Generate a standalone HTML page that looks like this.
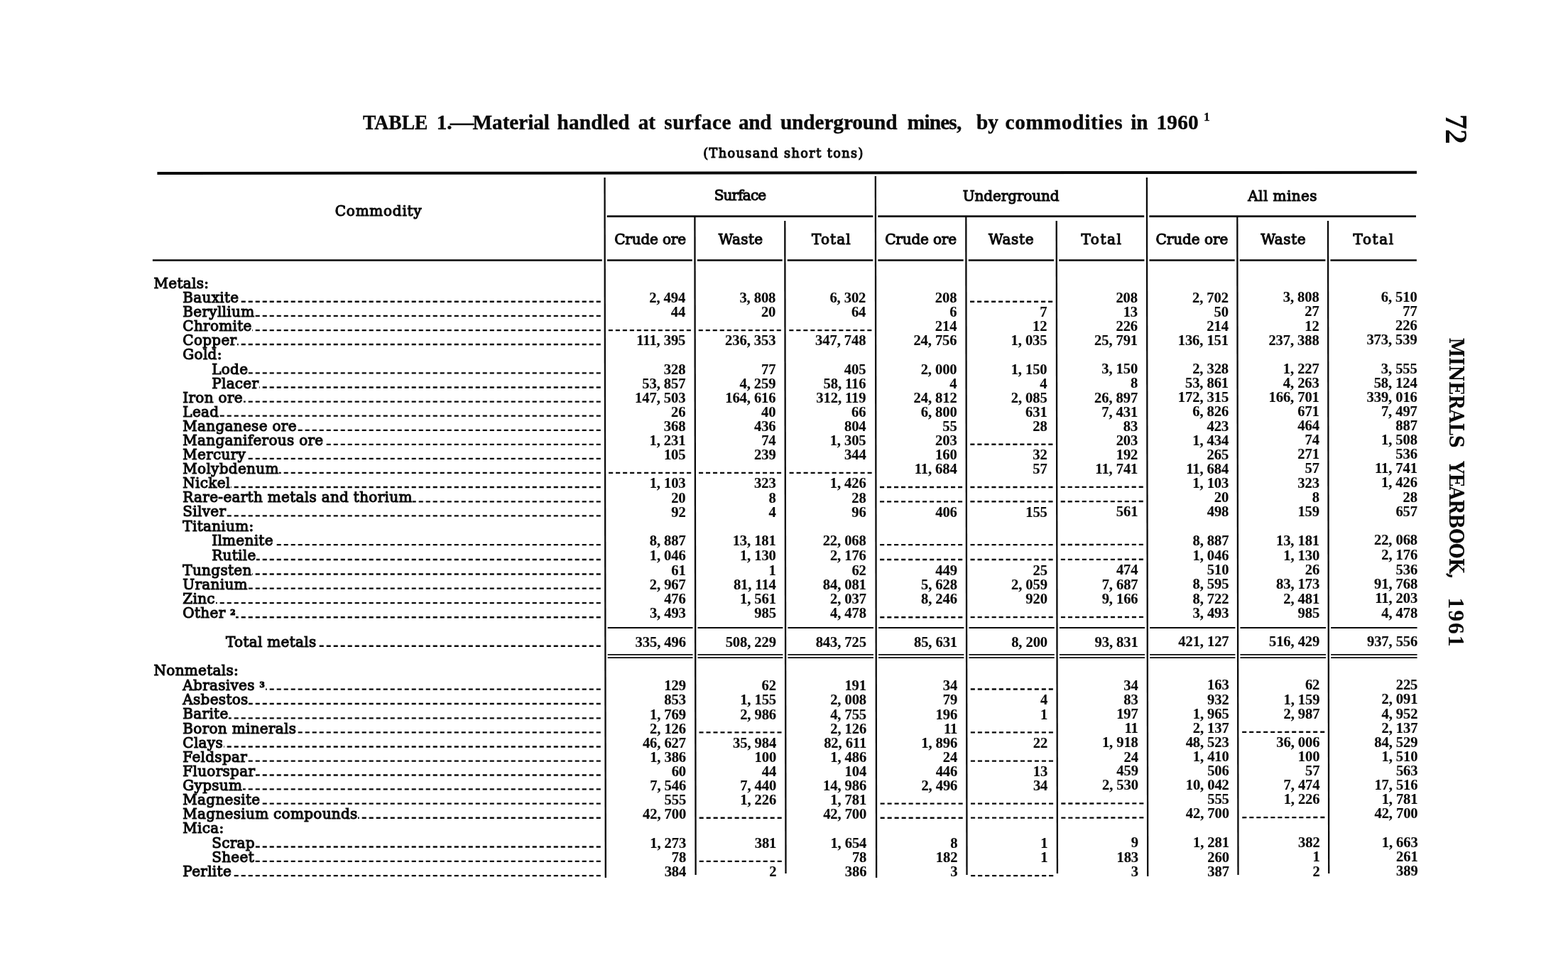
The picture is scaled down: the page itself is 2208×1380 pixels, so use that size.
<!DOCTYPE html><html lang="en"><head><meta charset="utf-8"><title>Table 1 - Material handled at surface and underground mines</title>
<style>
html,body{margin:0;padding:0;background:#fff;}
body{width:2208px;height:1380px;position:relative;overflow:hidden;color:#0a0a0a;}
.t{position:absolute;white-space:pre;line-height:1;display:block;}
.t sup{font-size:52%;vertical-align:baseline;position:relative;top:-0.40em;font-weight:700;}
.nm{font-weight:700;-webkit-text-stroke:0.15px #0a0a0a;}
.lb,.hd{-webkit-text-stroke:1.1px #0a0a0a;}
.tt{-webkit-text-stroke:0.4px #0a0a0a;}
</style></head><body>
<svg width="2208" height="1380" viewBox="0 0 2208 1380" style="position:absolute;left:0;top:0" fill="none" stroke="#0a0a0a">
<line x1="221.40" y1="244.00" x2="1995.00" y2="242.80" stroke-width="4.0"/>
<line x1="851.53" y1="250.00" x2="852.82" y2="1236.00" stroke-width="2.3"/>
<line x1="978.41" y1="306.00" x2="979.61" y2="1232.00" stroke-width="2.3"/>
<line x1="1105.31" y1="311.00" x2="1106.51" y2="1230.00" stroke-width="2.3"/>
<line x1="1232.83" y1="248.00" x2="1234.12" y2="1236.00" stroke-width="2.3"/>
<line x1="1360.31" y1="306.00" x2="1361.51" y2="1232.00" stroke-width="2.3"/>
<line x1="1487.71" y1="311.00" x2="1488.91" y2="1230.00" stroke-width="2.3"/>
<line x1="1614.93" y1="250.00" x2="1616.21" y2="1234.00" stroke-width="2.3"/>
<line x1="1742.31" y1="306.00" x2="1743.51" y2="1232.00" stroke-width="2.3"/>
<line x1="1870.01" y1="311.00" x2="1871.21" y2="1230.00" stroke-width="2.3"/>
<line x1="854.70" y1="304.70" x2="1229.30" y2="304.70" stroke-width="2.8"/>
<line x1="1236.30" y1="304.70" x2="1611.20" y2="304.70" stroke-width="2.8"/>
<line x1="1618.30" y1="304.70" x2="1994.00" y2="304.70" stroke-width="2.8"/>
<line x1="214.90" y1="366.50" x2="847.80" y2="366.50" stroke-width="2.7"/>
<line x1="855.00" y1="366.50" x2="974.80" y2="366.50" stroke-width="2.7"/>
<line x1="981.80" y1="366.50" x2="1101.70" y2="366.50" stroke-width="2.7"/>
<line x1="1108.70" y1="366.50" x2="1229.30" y2="366.50" stroke-width="2.7"/>
<line x1="1236.30" y1="366.50" x2="1356.70" y2="366.50" stroke-width="2.7"/>
<line x1="1363.70" y1="366.50" x2="1484.10" y2="366.50" stroke-width="2.7"/>
<line x1="1491.10" y1="366.50" x2="1611.40" y2="366.50" stroke-width="2.7"/>
<line x1="1618.40" y1="366.50" x2="1738.70" y2="366.50" stroke-width="2.7"/>
<line x1="1745.70" y1="366.50" x2="1866.40" y2="366.50" stroke-width="2.7"/>
<line x1="1873.40" y1="366.50" x2="1994.90" y2="366.50" stroke-width="2.7"/>
<line x1="855.70" y1="884.00" x2="975.50" y2="884.00" stroke-width="2.0"/>
<line x1="855.70" y1="921.90" x2="975.50" y2="921.90" stroke-width="1.8"/>
<line x1="855.70" y1="926.20" x2="975.50" y2="926.20" stroke-width="1.8"/>
<line x1="982.50" y1="884.00" x2="1102.40" y2="884.00" stroke-width="2.0"/>
<line x1="982.50" y1="921.90" x2="1102.40" y2="921.90" stroke-width="1.8"/>
<line x1="982.50" y1="926.20" x2="1102.40" y2="926.20" stroke-width="1.8"/>
<line x1="1109.40" y1="884.00" x2="1230.00" y2="884.00" stroke-width="2.0"/>
<line x1="1109.40" y1="921.90" x2="1230.00" y2="921.90" stroke-width="1.8"/>
<line x1="1109.40" y1="926.20" x2="1230.00" y2="926.20" stroke-width="1.8"/>
<line x1="1237.00" y1="884.00" x2="1357.40" y2="884.00" stroke-width="2.0"/>
<line x1="1237.00" y1="921.90" x2="1357.40" y2="921.90" stroke-width="1.8"/>
<line x1="1237.00" y1="926.20" x2="1357.40" y2="926.20" stroke-width="1.8"/>
<line x1="1364.40" y1="884.00" x2="1484.80" y2="884.00" stroke-width="2.0"/>
<line x1="1364.40" y1="921.90" x2="1484.80" y2="921.90" stroke-width="1.8"/>
<line x1="1364.40" y1="926.20" x2="1484.80" y2="926.20" stroke-width="1.8"/>
<line x1="1491.80" y1="884.00" x2="1612.10" y2="884.00" stroke-width="2.0"/>
<line x1="1491.80" y1="921.90" x2="1612.10" y2="921.90" stroke-width="1.8"/>
<line x1="1491.80" y1="926.20" x2="1612.10" y2="926.20" stroke-width="1.8"/>
<line x1="1619.10" y1="884.00" x2="1739.40" y2="884.00" stroke-width="2.0"/>
<line x1="1619.10" y1="921.90" x2="1739.40" y2="921.90" stroke-width="1.8"/>
<line x1="1619.10" y1="926.20" x2="1739.40" y2="926.20" stroke-width="1.8"/>
<line x1="1746.40" y1="884.00" x2="1867.10" y2="884.00" stroke-width="2.0"/>
<line x1="1746.40" y1="921.90" x2="1867.10" y2="921.90" stroke-width="1.8"/>
<line x1="1746.40" y1="926.20" x2="1867.10" y2="926.20" stroke-width="1.8"/>
<line x1="1874.10" y1="884.00" x2="1995.60" y2="884.00" stroke-width="2.0"/>
<line x1="1874.10" y1="921.90" x2="1995.60" y2="921.90" stroke-width="1.8"/>
<line x1="1874.10" y1="926.20" x2="1995.60" y2="926.20" stroke-width="1.8"/>
<line x1="845.80" y1="424.75" x2="337.00" y2="424.75" stroke-width="2.35" stroke-dasharray="6.1 3.9"/>
<line x1="1482.16" y1="424.70" x2="1365.26" y2="424.75" stroke-width="2.35" stroke-dasharray="6.1 3.9"/>
<line x1="845.80" y1="444.84" x2="359.00" y2="444.84" stroke-width="2.35" stroke-dasharray="6.1 3.9"/>
<line x1="845.80" y1="465.10" x2="355.00" y2="465.10" stroke-width="2.35" stroke-dasharray="6.1 3.9"/>
<line x1="972.91" y1="465.10" x2="856.61" y2="465.10" stroke-width="2.35" stroke-dasharray="6.1 3.9"/>
<line x1="1099.81" y1="465.10" x2="983.41" y2="465.10" stroke-width="2.35" stroke-dasharray="6.1 3.9"/>
<line x1="1227.41" y1="465.10" x2="1110.31" y2="465.10" stroke-width="2.35" stroke-dasharray="6.1 3.9"/>
<line x1="845.80" y1="485.00" x2="334.00" y2="485.00" stroke-width="2.35" stroke-dasharray="6.1 3.9"/>
<line x1="845.80" y1="525.40" x2="349.90" y2="525.40" stroke-width="2.35" stroke-dasharray="6.1 3.9"/>
<line x1="845.80" y1="545.50" x2="364.90" y2="545.50" stroke-width="2.35" stroke-dasharray="6.1 3.9"/>
<line x1="845.80" y1="565.55" x2="343.00" y2="565.55" stroke-width="2.35" stroke-dasharray="6.1 3.9"/>
<line x1="845.80" y1="585.60" x2="309.00" y2="585.60" stroke-width="2.35" stroke-dasharray="6.1 3.9"/>
<line x1="845.80" y1="605.90" x2="419.00" y2="605.90" stroke-width="2.35" stroke-dasharray="6.1 3.9"/>
<line x1="845.80" y1="625.80" x2="456.00" y2="625.80" stroke-width="2.35" stroke-dasharray="6.1 3.9"/>
<line x1="1482.42" y1="625.75" x2="1365.52" y2="625.80" stroke-width="2.35" stroke-dasharray="6.1 3.9"/>
<line x1="845.80" y1="645.90" x2="347.00" y2="645.90" stroke-width="2.35" stroke-dasharray="6.1 3.9"/>
<line x1="845.80" y1="665.85" x2="393.00" y2="665.85" stroke-width="2.35" stroke-dasharray="6.1 3.9"/>
<line x1="973.18" y1="665.85" x2="856.88" y2="665.85" stroke-width="2.35" stroke-dasharray="6.1 3.9"/>
<line x1="1100.08" y1="665.85" x2="983.68" y2="665.85" stroke-width="2.35" stroke-dasharray="6.1 3.9"/>
<line x1="1227.68" y1="665.85" x2="1110.58" y2="665.85" stroke-width="2.35" stroke-dasharray="6.1 3.9"/>
<line x1="845.80" y1="686.00" x2="325.00" y2="686.00" stroke-width="2.35" stroke-dasharray="6.1 3.9"/>
<line x1="1355.10" y1="686.00" x2="1238.20" y2="686.00" stroke-width="2.35" stroke-dasharray="6.1 3.9"/>
<line x1="1482.50" y1="685.95" x2="1365.60" y2="686.00" stroke-width="2.35" stroke-dasharray="6.1 3.9"/>
<line x1="1609.80" y1="685.74" x2="1493.00" y2="685.93" stroke-width="2.35" stroke-dasharray="6.1 3.9"/>
<line x1="845.80" y1="706.30" x2="581.00" y2="706.30" stroke-width="2.35" stroke-dasharray="6.1 3.9"/>
<line x1="1355.13" y1="706.30" x2="1238.23" y2="706.30" stroke-width="2.35" stroke-dasharray="6.1 3.9"/>
<line x1="1482.53" y1="706.25" x2="1365.63" y2="706.30" stroke-width="2.35" stroke-dasharray="6.1 3.9"/>
<line x1="1609.83" y1="706.04" x2="1493.03" y2="706.23" stroke-width="2.35" stroke-dasharray="6.1 3.9"/>
<line x1="845.80" y1="726.30" x2="319.00" y2="726.30" stroke-width="2.35" stroke-dasharray="6.1 3.9"/>
<line x1="845.80" y1="767.10" x2="385.90" y2="767.10" stroke-width="2.35" stroke-dasharray="6.1 3.9"/>
<line x1="1355.21" y1="767.10" x2="1238.31" y2="767.10" stroke-width="2.35" stroke-dasharray="6.1 3.9"/>
<line x1="1482.61" y1="767.05" x2="1365.71" y2="767.10" stroke-width="2.35" stroke-dasharray="6.1 3.9"/>
<line x1="1609.91" y1="766.84" x2="1493.11" y2="767.03" stroke-width="2.35" stroke-dasharray="6.1 3.9"/>
<line x1="845.80" y1="788.00" x2="360.90" y2="788.00" stroke-width="2.35" stroke-dasharray="6.1 3.9"/>
<line x1="1355.23" y1="788.00" x2="1238.33" y2="788.00" stroke-width="2.35" stroke-dasharray="6.1 3.9"/>
<line x1="1482.63" y1="787.95" x2="1365.73" y2="788.00" stroke-width="2.35" stroke-dasharray="6.1 3.9"/>
<line x1="1609.93" y1="787.74" x2="1493.13" y2="787.93" stroke-width="2.35" stroke-dasharray="6.1 3.9"/>
<line x1="845.80" y1="808.50" x2="355.00" y2="808.50" stroke-width="2.35" stroke-dasharray="6.1 3.9"/>
<line x1="845.80" y1="828.60" x2="350.00" y2="828.60" stroke-width="2.35" stroke-dasharray="6.1 3.9"/>
<line x1="845.80" y1="849.10" x2="304.00" y2="849.10" stroke-width="2.35" stroke-dasharray="6.1 3.9"/>
<line x1="845.80" y1="869.20" x2="332.00" y2="869.20" stroke-width="2.35" stroke-dasharray="6.1 3.9"/>
<line x1="1355.34" y1="869.20" x2="1238.44" y2="869.20" stroke-width="2.35" stroke-dasharray="6.1 3.9"/>
<line x1="1482.74" y1="869.15" x2="1365.84" y2="869.20" stroke-width="2.35" stroke-dasharray="6.1 3.9"/>
<line x1="1610.04" y1="868.94" x2="1493.24" y2="869.13" stroke-width="2.35" stroke-dasharray="6.1 3.9"/>
<line x1="845.80" y1="909.70" x2="446.70" y2="909.70" stroke-width="2.35" stroke-dasharray="6.1 3.9"/>
<line x1="845.80" y1="970.55" x2="374.00" y2="970.55" stroke-width="2.35" stroke-dasharray="6.1 3.9"/>
<line x1="1482.87" y1="970.50" x2="1365.97" y2="970.55" stroke-width="2.35" stroke-dasharray="6.1 3.9"/>
<line x1="845.80" y1="991.00" x2="350.00" y2="991.00" stroke-width="2.35" stroke-dasharray="6.1 3.9"/>
<line x1="845.80" y1="1011.30" x2="322.00" y2="1011.30" stroke-width="2.35" stroke-dasharray="6.1 3.9"/>
<line x1="845.80" y1="1031.40" x2="418.00" y2="1031.40" stroke-width="2.35" stroke-dasharray="6.1 3.9"/>
<line x1="1100.55" y1="1031.40" x2="984.15" y2="1031.40" stroke-width="2.35" stroke-dasharray="6.1 3.9"/>
<line x1="1482.95" y1="1031.35" x2="1366.05" y2="1031.40" stroke-width="2.35" stroke-dasharray="6.1 3.9"/>
<line x1="1865.25" y1="1030.71" x2="1748.05" y2="1030.91" stroke-width="2.35" stroke-dasharray="6.1 3.9"/>
<line x1="845.80" y1="1051.50" x2="315.00" y2="1051.50" stroke-width="2.35" stroke-dasharray="6.1 3.9"/>
<line x1="845.80" y1="1071.60" x2="349.00" y2="1071.60" stroke-width="2.35" stroke-dasharray="6.1 3.9"/>
<line x1="1483.00" y1="1071.55" x2="1366.10" y2="1071.60" stroke-width="2.35" stroke-dasharray="6.1 3.9"/>
<line x1="845.80" y1="1091.50" x2="360.00" y2="1091.50" stroke-width="2.35" stroke-dasharray="6.1 3.9"/>
<line x1="845.80" y1="1111.35" x2="342.00" y2="1111.35" stroke-width="2.35" stroke-dasharray="6.1 3.9"/>
<line x1="845.80" y1="1131.60" x2="367.00" y2="1131.60" stroke-width="2.35" stroke-dasharray="6.1 3.9"/>
<line x1="1355.68" y1="1131.60" x2="1238.78" y2="1131.60" stroke-width="2.35" stroke-dasharray="6.1 3.9"/>
<line x1="1483.08" y1="1131.55" x2="1366.18" y2="1131.60" stroke-width="2.35" stroke-dasharray="6.1 3.9"/>
<line x1="1610.38" y1="1131.34" x2="1493.58" y2="1131.53" stroke-width="2.35" stroke-dasharray="6.1 3.9"/>
<line x1="845.80" y1="1151.70" x2="504.00" y2="1151.70" stroke-width="2.35" stroke-dasharray="6.1 3.9"/>
<line x1="1100.71" y1="1151.70" x2="984.31" y2="1151.70" stroke-width="2.35" stroke-dasharray="6.1 3.9"/>
<line x1="1355.71" y1="1151.70" x2="1238.81" y2="1151.70" stroke-width="2.35" stroke-dasharray="6.1 3.9"/>
<line x1="1483.11" y1="1151.65" x2="1366.21" y2="1151.70" stroke-width="2.35" stroke-dasharray="6.1 3.9"/>
<line x1="1610.41" y1="1151.44" x2="1493.61" y2="1151.63" stroke-width="2.35" stroke-dasharray="6.1 3.9"/>
<line x1="1865.41" y1="1151.01" x2="1748.21" y2="1151.21" stroke-width="2.35" stroke-dasharray="6.1 3.9"/>
<line x1="845.80" y1="1192.50" x2="359.90" y2="1192.50" stroke-width="2.35" stroke-dasharray="6.1 3.9"/>
<line x1="845.80" y1="1212.80" x2="358.90" y2="1212.80" stroke-width="2.35" stroke-dasharray="6.1 3.9"/>
<line x1="1100.79" y1="1212.80" x2="984.39" y2="1212.80" stroke-width="2.35" stroke-dasharray="6.1 3.9"/>
<line x1="845.80" y1="1233.10" x2="327.00" y2="1233.10" stroke-width="2.35" stroke-dasharray="6.1 3.9"/>
<line x1="1483.21" y1="1233.05" x2="1366.31" y2="1233.10" stroke-width="2.35" stroke-dasharray="6.1 3.9"/>
</svg>
<span class="t tt" style="font-family:'Liberation Serif', serif;font-size:29.3px;font-weight:700;left:511.40px;top:158.06px;transform-origin:0 0;transform:scaleX(0.9412);">TABLE</span>
<span class="t tt" style="font-family:'Liberation Serif', serif;font-size:29.3px;font-weight:700;left:614.70px;top:158.06px;">1.</span>
<span class="t tt" style="font-family:'Liberation Serif', serif;font-size:29.3px;font-weight:700;left:633.70px;top:158.06px;transform-origin:0 0;transform:scaleX(1.1345);">—</span>
<span class="t tt" style="font-family:'Liberation Serif', serif;font-size:29.3px;font-weight:700;letter-spacing:-0.086px;left:665.50px;top:158.06px;">Material</span>
<span class="t tt" style="font-family:'Liberation Serif', serif;font-size:29.3px;font-weight:700;letter-spacing:0.200px;left:784.50px;top:158.06px;">handled</span>
<span class="t tt" style="font-family:'Liberation Serif', serif;font-size:29.3px;font-weight:700;left:898.70px;top:158.06px;">at</span>
<span class="t tt" style="font-family:'Liberation Serif', serif;font-size:29.3px;font-weight:700;letter-spacing:0.500px;left:935.30px;top:158.06px;">surface</span>
<span class="t tt" style="font-family:'Liberation Serif', serif;font-size:29.3px;font-weight:700;letter-spacing:-0.300px;left:1040.00px;top:158.06px;">and</span>
<span class="t tt" style="font-family:'Liberation Serif', serif;font-size:29.3px;font-weight:700;letter-spacing:-0.090px;left:1098.90px;top:158.06px;">underground</span>
<span class="t tt" style="font-family:'Liberation Serif', serif;font-size:29.3px;font-weight:700;letter-spacing:-0.820px;left:1277.80px;top:158.06px;">mines,</span>
<span class="t tt" style="font-family:'Liberation Serif', serif;font-size:29.3px;font-weight:700;left:1374.90px;top:158.06px;">by</span>
<span class="t tt" style="font-family:'Liberation Serif', serif;font-size:29.3px;font-weight:700;letter-spacing:0.740px;left:1415.40px;top:158.06px;">commodities</span>
<span class="t tt" style="font-family:'Liberation Serif', serif;font-size:29.3px;font-weight:700;left:1592.20px;top:158.06px;">in</span>
<span class="t tt" style="font-family:'Liberation Serif', serif;font-size:29.3px;font-weight:700;letter-spacing:0.167px;left:1628.50px;top:158.06px;">1960</span>
<span class="t tt" style="font-family:'Liberation Serif', serif;font-size:16.5px;font-weight:700;left:1695.20px;top:157.18px;">1</span>
<span class="t hd" style="font-family:'DejaVu Serif', 'Liberation Serif', serif;font-size:17.6px;letter-spacing:1.430px;left:990.20px;top:208.31px;">(Thousand short tons)</span>
<span class="t hd" style="font-family:'DejaVu Serif', 'Liberation Serif', serif;font-size:20.0px;letter-spacing:0.750px;left:471.80px;top:286.68px;">Commodity</span>
<span class="t hd" style="font-family:'DejaVu Serif', 'Liberation Serif', serif;font-size:20.0px;letter-spacing:-0.850px;left:1005.70px;top:265.38px;">Surface</span>
<span class="t hd" style="font-family:'DejaVu Serif', 'Liberation Serif', serif;font-size:20.0px;letter-spacing:-0.110px;left:1355.80px;top:265.88px;">Underground</span>
<span class="t hd" style="font-family:'DejaVu Serif', 'Liberation Serif', serif;font-size:20.0px;letter-spacing:0.438px;left:1757.20px;top:265.68px;">All mines</span>
<span class="t hd" style="font-family:'DejaVu Serif', 'Liberation Serif', serif;font-size:20.0px;letter-spacing:-0.175px;left:865.20px;top:327.18px;">Crude ore</span>
<span class="t hd" style="font-family:'DejaVu Serif', 'Liberation Serif', serif;font-size:20.0px;letter-spacing:0.375px;left:1011.80px;top:327.18px;">Waste</span>
<span class="t hd" style="font-family:'DejaVu Serif', 'Liberation Serif', serif;font-size:20.0px;letter-spacing:1.100px;left:1143.10px;top:327.18px;">Total</span>
<span class="t hd" style="font-family:'DejaVu Serif', 'Liberation Serif', serif;font-size:20.0px;letter-spacing:-0.163px;left:1246.20px;top:326.98px;">Crude ore</span>
<span class="t hd" style="font-family:'DejaVu Serif', 'Liberation Serif', serif;font-size:20.0px;letter-spacing:0.675px;left:1391.90px;top:326.98px;">Waste</span>
<span class="t hd" style="font-family:'DejaVu Serif', 'Liberation Serif', serif;font-size:20.0px;letter-spacing:1.575px;left:1522.50px;top:326.98px;">Total</span>
<span class="t hd" style="font-family:'DejaVu Serif', 'Liberation Serif', serif;font-size:20.0px;letter-spacing:-0.050px;left:1627.50px;top:326.78px;">Crude ore</span>
<span class="t hd" style="font-family:'DejaVu Serif', 'Liberation Serif', serif;font-size:20.0px;letter-spacing:0.550px;left:1775.50px;top:326.78px;">Waste</span>
<span class="t hd" style="font-family:'DejaVu Serif', 'Liberation Serif', serif;font-size:20.0px;letter-spacing:1.600px;left:1905.60px;top:326.78px;">Total</span>
<span class="t" style="font-family:'Liberation Serif', serif;font-size:45px;font-weight:700;left:2035.30px;top:123.11px;transform-origin:0 37.69px;transform:rotate(90deg) scaleX(0.94);">72</span>
<span class="t" style="font-family:'DejaVu Serif Condensed', 'DejaVu Serif', serif;font-size:27.8px;font-weight:700;letter-spacing:-0.257px;left:2040.00px;top:451.68px;transform-origin:0 23.52px;transform:rotate(90deg);">MINERALS</span>
<span class="t" style="font-family:'DejaVu Serif Condensed', 'DejaVu Serif', serif;font-size:27.8px;font-weight:700;letter-spacing:-0.863px;left:2040.00px;top:625.98px;transform-origin:0 23.52px;transform:rotate(90deg);">YEARBOOK,</span>
<span class="t" style="font-family:'Liberation Serif', serif;font-size:31.5px;font-weight:700;letter-spacing:2.000px;left:2040.00px;top:815.22px;transform-origin:0 26.38px;transform:rotate(90deg);">1961</span>
<span class="t lb" style="font-family:'DejaVu Serif', 'Liberation Serif', serif;font-size:20.0px;letter-spacing:0.300px;left:216.50px;top:388.83px;">Metals:</span>
<span class="t lb" style="font-family:'DejaVu Serif', 'Liberation Serif', serif;font-size:20.0px;letter-spacing:0.300px;left:257.30px;top:408.93px;">Bauxite</span>
<span class="t nm" style="font-family:'Liberation Serif', serif;font-size:20.6px;letter-spacing:-0.100px;right:1242.81px;top:408.95px;">2, 494</span>
<span class="t nm" style="font-family:'Liberation Serif', serif;font-size:20.6px;letter-spacing:-0.100px;right:1115.71px;top:408.95px;">3, 808</span>
<span class="t nm" style="font-family:'Liberation Serif', serif;font-size:20.6px;letter-spacing:-0.100px;right:988.71px;top:408.95px;">6, 302</span>
<span class="t nm" style="font-family:'Liberation Serif', serif;font-size:20.6px;letter-spacing:-0.100px;right:860.61px;top:408.95px;">208</span>
<span class="t nm" style="font-family:'Liberation Serif', serif;font-size:20.6px;letter-spacing:-0.100px;right:606.01px;top:408.74px;">208</span>
<span class="t nm" style="font-family:'Liberation Serif', serif;font-size:20.6px;letter-spacing:-0.100px;right:478.11px;top:408.53px;">2, 702</span>
<span class="t nm" style="font-family:'Liberation Serif', serif;font-size:20.6px;letter-spacing:-0.100px;right:350.41px;top:408.32px;">3, 808</span>
<span class="t nm" style="font-family:'Liberation Serif', serif;font-size:20.6px;letter-spacing:-0.100px;right:212.41px;top:408.09px;">6, 510</span>
<span class="t lb" style="font-family:'DejaVu Serif', 'Liberation Serif', serif;font-size:20.0px;letter-spacing:0.300px;left:257.30px;top:429.02px;">Beryllium</span>
<span class="t nm" style="font-family:'Liberation Serif', serif;font-size:20.6px;letter-spacing:-0.100px;right:1242.78px;top:429.04px;">44</span>
<span class="t nm" style="font-family:'Liberation Serif', serif;font-size:20.6px;letter-spacing:-0.100px;right:1115.68px;top:429.04px;">20</span>
<span class="t nm" style="font-family:'Liberation Serif', serif;font-size:20.6px;letter-spacing:-0.100px;right:988.68px;top:429.04px;">64</span>
<span class="t nm" style="font-family:'Liberation Serif', serif;font-size:20.6px;letter-spacing:-0.100px;right:860.58px;top:429.04px;">6</span>
<span class="t nm" style="font-family:'Liberation Serif', serif;font-size:20.6px;letter-spacing:-0.100px;right:733.58px;top:429.04px;">7</span>
<span class="t nm" style="font-family:'Liberation Serif', serif;font-size:20.6px;letter-spacing:-0.100px;right:605.98px;top:428.83px;">13</span>
<span class="t nm" style="font-family:'Liberation Serif', serif;font-size:20.6px;letter-spacing:-0.100px;right:478.08px;top:428.62px;">50</span>
<span class="t nm" style="font-family:'Liberation Serif', serif;font-size:20.6px;letter-spacing:-0.100px;right:350.38px;top:428.41px;">27</span>
<span class="t nm" style="font-family:'Liberation Serif', serif;font-size:20.6px;letter-spacing:-0.100px;right:212.38px;top:428.18px;">77</span>
<span class="t lb" style="font-family:'DejaVu Serif', 'Liberation Serif', serif;font-size:20.0px;letter-spacing:0.300px;left:257.30px;top:449.28px;">Chromite</span>
<span class="t nm" style="font-family:'Liberation Serif', serif;font-size:20.6px;letter-spacing:-0.100px;right:860.55px;top:449.30px;">214</span>
<span class="t nm" style="font-family:'Liberation Serif', serif;font-size:20.6px;letter-spacing:-0.100px;right:733.55px;top:449.30px;">12</span>
<span class="t nm" style="font-family:'Liberation Serif', serif;font-size:20.6px;letter-spacing:-0.100px;right:605.95px;top:449.09px;">226</span>
<span class="t nm" style="font-family:'Liberation Serif', serif;font-size:20.6px;letter-spacing:-0.100px;right:478.05px;top:448.88px;">214</span>
<span class="t nm" style="font-family:'Liberation Serif', serif;font-size:20.6px;letter-spacing:-0.100px;right:350.35px;top:448.67px;">12</span>
<span class="t nm" style="font-family:'Liberation Serif', serif;font-size:20.6px;letter-spacing:-0.100px;right:212.35px;top:448.44px;">226</span>
<span class="t lb" style="font-family:'DejaVu Serif', 'Liberation Serif', serif;font-size:20.0px;letter-spacing:0.300px;left:257.30px;top:469.18px;">Copper</span>
<span class="t nm" style="font-family:'Liberation Serif', serif;font-size:20.6px;letter-spacing:-0.100px;right:1242.73px;top:469.20px;">111, 395</span>
<span class="t nm" style="font-family:'Liberation Serif', serif;font-size:20.6px;letter-spacing:-0.100px;right:1115.63px;top:469.20px;">236, 353</span>
<span class="t nm" style="font-family:'Liberation Serif', serif;font-size:20.6px;letter-spacing:-0.100px;right:988.63px;top:469.20px;">347, 748</span>
<span class="t nm" style="font-family:'Liberation Serif', serif;font-size:20.6px;letter-spacing:-0.100px;right:860.53px;top:469.20px;">24, 756</span>
<span class="t nm" style="font-family:'Liberation Serif', serif;font-size:20.6px;letter-spacing:-0.100px;right:733.53px;top:469.20px;">1, 035</span>
<span class="t nm" style="font-family:'Liberation Serif', serif;font-size:20.6px;letter-spacing:-0.100px;right:605.93px;top:468.99px;">25, 791</span>
<span class="t nm" style="font-family:'Liberation Serif', serif;font-size:20.6px;letter-spacing:-0.100px;right:478.03px;top:468.78px;">136, 151</span>
<span class="t nm" style="font-family:'Liberation Serif', serif;font-size:20.6px;letter-spacing:-0.100px;right:350.33px;top:468.57px;">237, 388</span>
<span class="t nm" style="font-family:'Liberation Serif', serif;font-size:20.6px;letter-spacing:-0.100px;right:212.33px;top:468.34px;">373, 539</span>
<span class="t lb" style="font-family:'DejaVu Serif', 'Liberation Serif', serif;font-size:20.0px;letter-spacing:0.300px;left:257.30px;top:489.38px;">Gold:</span>
<span class="t lb" style="font-family:'DejaVu Serif', 'Liberation Serif', serif;font-size:20.0px;letter-spacing:0.300px;left:298.20px;top:509.58px;">Lode</span>
<span class="t nm" style="font-family:'Liberation Serif', serif;font-size:20.6px;letter-spacing:-0.100px;right:1242.68px;top:509.60px;">328</span>
<span class="t nm" style="font-family:'Liberation Serif', serif;font-size:20.6px;letter-spacing:-0.100px;right:1115.58px;top:509.60px;">77</span>
<span class="t nm" style="font-family:'Liberation Serif', serif;font-size:20.6px;letter-spacing:-0.100px;right:988.58px;top:509.60px;">405</span>
<span class="t nm" style="font-family:'Liberation Serif', serif;font-size:20.6px;letter-spacing:-0.100px;right:860.48px;top:509.60px;">2, 000</span>
<span class="t nm" style="font-family:'Liberation Serif', serif;font-size:20.6px;letter-spacing:-0.100px;right:733.48px;top:509.60px;">1, 150</span>
<span class="t nm" style="font-family:'Liberation Serif', serif;font-size:20.6px;letter-spacing:-0.100px;right:605.88px;top:509.39px;">3, 150</span>
<span class="t nm" style="font-family:'Liberation Serif', serif;font-size:20.6px;letter-spacing:-0.100px;right:477.98px;top:509.18px;">2, 328</span>
<span class="t nm" style="font-family:'Liberation Serif', serif;font-size:20.6px;letter-spacing:-0.100px;right:350.28px;top:508.97px;">1, 227</span>
<span class="t nm" style="font-family:'Liberation Serif', serif;font-size:20.6px;letter-spacing:-0.100px;right:212.28px;top:508.74px;">3, 555</span>
<span class="t lb" style="font-family:'DejaVu Serif', 'Liberation Serif', serif;font-size:20.0px;letter-spacing:0.300px;left:298.20px;top:529.68px;">Placer</span>
<span class="t nm" style="font-family:'Liberation Serif', serif;font-size:20.6px;letter-spacing:-0.100px;right:1242.65px;top:529.70px;">53, 857</span>
<span class="t nm" style="font-family:'Liberation Serif', serif;font-size:20.6px;letter-spacing:-0.100px;right:1115.55px;top:529.70px;">4, 259</span>
<span class="t nm" style="font-family:'Liberation Serif', serif;font-size:20.6px;letter-spacing:-0.100px;right:988.55px;top:529.70px;">58, 116</span>
<span class="t nm" style="font-family:'Liberation Serif', serif;font-size:20.6px;letter-spacing:-0.100px;right:860.45px;top:529.70px;">4</span>
<span class="t nm" style="font-family:'Liberation Serif', serif;font-size:20.6px;letter-spacing:-0.100px;right:733.45px;top:529.70px;">4</span>
<span class="t nm" style="font-family:'Liberation Serif', serif;font-size:20.6px;letter-spacing:-0.100px;right:605.85px;top:529.49px;">8</span>
<span class="t nm" style="font-family:'Liberation Serif', serif;font-size:20.6px;letter-spacing:-0.100px;right:477.95px;top:529.28px;">53, 861</span>
<span class="t nm" style="font-family:'Liberation Serif', serif;font-size:20.6px;letter-spacing:-0.100px;right:350.25px;top:529.07px;">4, 263</span>
<span class="t nm" style="font-family:'Liberation Serif', serif;font-size:20.6px;letter-spacing:-0.100px;right:212.25px;top:528.84px;">58, 124</span>
<span class="t lb" style="font-family:'DejaVu Serif', 'Liberation Serif', serif;font-size:20.0px;letter-spacing:0.300px;left:257.30px;top:549.73px;">Iron ore</span>
<span class="t nm" style="font-family:'Liberation Serif', serif;font-size:20.6px;letter-spacing:-0.100px;right:1242.62px;top:549.75px;">147, 503</span>
<span class="t nm" style="font-family:'Liberation Serif', serif;font-size:20.6px;letter-spacing:-0.100px;right:1115.52px;top:549.75px;">164, 616</span>
<span class="t nm" style="font-family:'Liberation Serif', serif;font-size:20.6px;letter-spacing:-0.100px;right:988.52px;top:549.75px;">312, 119</span>
<span class="t nm" style="font-family:'Liberation Serif', serif;font-size:20.6px;letter-spacing:-0.100px;right:860.42px;top:549.75px;">24, 812</span>
<span class="t nm" style="font-family:'Liberation Serif', serif;font-size:20.6px;letter-spacing:-0.100px;right:733.42px;top:549.75px;">2, 085</span>
<span class="t nm" style="font-family:'Liberation Serif', serif;font-size:20.6px;letter-spacing:-0.100px;right:605.82px;top:549.54px;">26, 897</span>
<span class="t nm" style="font-family:'Liberation Serif', serif;font-size:20.6px;letter-spacing:-0.100px;right:477.92px;top:549.33px;">172, 315</span>
<span class="t nm" style="font-family:'Liberation Serif', serif;font-size:20.6px;letter-spacing:-0.100px;right:350.22px;top:549.12px;">166, 701</span>
<span class="t nm" style="font-family:'Liberation Serif', serif;font-size:20.6px;letter-spacing:-0.100px;right:212.22px;top:548.89px;">339, 016</span>
<span class="t lb" style="font-family:'DejaVu Serif', 'Liberation Serif', serif;font-size:20.0px;letter-spacing:0.300px;left:257.30px;top:569.78px;">Lead</span>
<span class="t nm" style="font-family:'Liberation Serif', serif;font-size:20.6px;letter-spacing:-0.100px;right:1242.60px;top:569.80px;">26</span>
<span class="t nm" style="font-family:'Liberation Serif', serif;font-size:20.6px;letter-spacing:-0.100px;right:1115.50px;top:569.80px;">40</span>
<span class="t nm" style="font-family:'Liberation Serif', serif;font-size:20.6px;letter-spacing:-0.100px;right:988.50px;top:569.80px;">66</span>
<span class="t nm" style="font-family:'Liberation Serif', serif;font-size:20.6px;letter-spacing:-0.100px;right:860.40px;top:569.80px;">6, 800</span>
<span class="t nm" style="font-family:'Liberation Serif', serif;font-size:20.6px;letter-spacing:-0.100px;right:733.40px;top:569.80px;">631</span>
<span class="t nm" style="font-family:'Liberation Serif', serif;font-size:20.6px;letter-spacing:-0.100px;right:605.80px;top:569.59px;">7, 431</span>
<span class="t nm" style="font-family:'Liberation Serif', serif;font-size:20.6px;letter-spacing:-0.100px;right:477.90px;top:569.38px;">6, 826</span>
<span class="t nm" style="font-family:'Liberation Serif', serif;font-size:20.6px;letter-spacing:-0.100px;right:350.20px;top:569.17px;">671</span>
<span class="t nm" style="font-family:'Liberation Serif', serif;font-size:20.6px;letter-spacing:-0.100px;right:212.20px;top:568.94px;">7, 497</span>
<span class="t lb" style="font-family:'DejaVu Serif', 'Liberation Serif', serif;font-size:20.0px;letter-spacing:0.300px;left:257.30px;top:590.08px;">Manganese ore</span>
<span class="t nm" style="font-family:'Liberation Serif', serif;font-size:20.6px;letter-spacing:-0.100px;right:1242.57px;top:590.10px;">368</span>
<span class="t nm" style="font-family:'Liberation Serif', serif;font-size:20.6px;letter-spacing:-0.100px;right:1115.47px;top:590.10px;">436</span>
<span class="t nm" style="font-family:'Liberation Serif', serif;font-size:20.6px;letter-spacing:-0.100px;right:988.47px;top:590.10px;">804</span>
<span class="t nm" style="font-family:'Liberation Serif', serif;font-size:20.6px;letter-spacing:-0.100px;right:860.37px;top:590.10px;">55</span>
<span class="t nm" style="font-family:'Liberation Serif', serif;font-size:20.6px;letter-spacing:-0.100px;right:733.37px;top:590.10px;">28</span>
<span class="t nm" style="font-family:'Liberation Serif', serif;font-size:20.6px;letter-spacing:-0.100px;right:605.77px;top:589.89px;">83</span>
<span class="t nm" style="font-family:'Liberation Serif', serif;font-size:20.6px;letter-spacing:-0.100px;right:477.87px;top:589.68px;">423</span>
<span class="t nm" style="font-family:'Liberation Serif', serif;font-size:20.6px;letter-spacing:-0.100px;right:350.17px;top:589.47px;">464</span>
<span class="t nm" style="font-family:'Liberation Serif', serif;font-size:20.6px;letter-spacing:-0.100px;right:212.17px;top:589.24px;">887</span>
<span class="t lb" style="font-family:'DejaVu Serif', 'Liberation Serif', serif;font-size:20.0px;letter-spacing:0.300px;left:257.30px;top:609.98px;">Manganiferous ore</span>
<span class="t nm" style="font-family:'Liberation Serif', serif;font-size:20.6px;letter-spacing:-0.100px;right:1242.55px;top:610.00px;">1, 231</span>
<span class="t nm" style="font-family:'Liberation Serif', serif;font-size:20.6px;letter-spacing:-0.100px;right:1115.45px;top:610.00px;">74</span>
<span class="t nm" style="font-family:'Liberation Serif', serif;font-size:20.6px;letter-spacing:-0.100px;right:988.45px;top:610.00px;">1, 305</span>
<span class="t nm" style="font-family:'Liberation Serif', serif;font-size:20.6px;letter-spacing:-0.100px;right:860.35px;top:610.00px;">203</span>
<span class="t nm" style="font-family:'Liberation Serif', serif;font-size:20.6px;letter-spacing:-0.100px;right:605.75px;top:609.79px;">203</span>
<span class="t nm" style="font-family:'Liberation Serif', serif;font-size:20.6px;letter-spacing:-0.100px;right:477.85px;top:609.58px;">1, 434</span>
<span class="t nm" style="font-family:'Liberation Serif', serif;font-size:20.6px;letter-spacing:-0.100px;right:350.15px;top:609.37px;">74</span>
<span class="t nm" style="font-family:'Liberation Serif', serif;font-size:20.6px;letter-spacing:-0.100px;right:212.15px;top:609.14px;">1, 508</span>
<span class="t lb" style="font-family:'DejaVu Serif', 'Liberation Serif', serif;font-size:20.0px;letter-spacing:0.300px;left:257.30px;top:630.08px;">Mercury</span>
<span class="t nm" style="font-family:'Liberation Serif', serif;font-size:20.6px;letter-spacing:-0.100px;right:1242.52px;top:630.10px;">105</span>
<span class="t nm" style="font-family:'Liberation Serif', serif;font-size:20.6px;letter-spacing:-0.100px;right:1115.42px;top:630.10px;">239</span>
<span class="t nm" style="font-family:'Liberation Serif', serif;font-size:20.6px;letter-spacing:-0.100px;right:988.42px;top:630.10px;">344</span>
<span class="t nm" style="font-family:'Liberation Serif', serif;font-size:20.6px;letter-spacing:-0.100px;right:860.32px;top:630.10px;">160</span>
<span class="t nm" style="font-family:'Liberation Serif', serif;font-size:20.6px;letter-spacing:-0.100px;right:733.32px;top:630.10px;">32</span>
<span class="t nm" style="font-family:'Liberation Serif', serif;font-size:20.6px;letter-spacing:-0.100px;right:605.72px;top:629.89px;">192</span>
<span class="t nm" style="font-family:'Liberation Serif', serif;font-size:20.6px;letter-spacing:-0.100px;right:477.82px;top:629.68px;">265</span>
<span class="t nm" style="font-family:'Liberation Serif', serif;font-size:20.6px;letter-spacing:-0.100px;right:350.12px;top:629.47px;">271</span>
<span class="t nm" style="font-family:'Liberation Serif', serif;font-size:20.6px;letter-spacing:-0.100px;right:212.12px;top:629.24px;">536</span>
<span class="t lb" style="font-family:'DejaVu Serif', 'Liberation Serif', serif;font-size:20.0px;letter-spacing:0.300px;left:257.30px;top:650.03px;">Molybdenum</span>
<span class="t nm" style="font-family:'Liberation Serif', serif;font-size:20.6px;letter-spacing:-0.100px;right:860.29px;top:650.05px;">11, 684</span>
<span class="t nm" style="font-family:'Liberation Serif', serif;font-size:20.6px;letter-spacing:-0.100px;right:733.29px;top:650.05px;">57</span>
<span class="t nm" style="font-family:'Liberation Serif', serif;font-size:20.6px;letter-spacing:-0.100px;right:605.69px;top:649.84px;">11, 741</span>
<span class="t nm" style="font-family:'Liberation Serif', serif;font-size:20.6px;letter-spacing:-0.100px;right:477.79px;top:649.63px;">11, 684</span>
<span class="t nm" style="font-family:'Liberation Serif', serif;font-size:20.6px;letter-spacing:-0.100px;right:350.09px;top:649.42px;">57</span>
<span class="t nm" style="font-family:'Liberation Serif', serif;font-size:20.6px;letter-spacing:-0.100px;right:212.09px;top:649.19px;">11, 741</span>
<span class="t lb" style="font-family:'DejaVu Serif', 'Liberation Serif', serif;font-size:20.0px;letter-spacing:0.300px;left:257.30px;top:670.18px;">Nickel</span>
<span class="t nm" style="font-family:'Liberation Serif', serif;font-size:20.6px;letter-spacing:-0.100px;right:1242.47px;top:670.20px;">1, 103</span>
<span class="t nm" style="font-family:'Liberation Serif', serif;font-size:20.6px;letter-spacing:-0.100px;right:1115.37px;top:670.20px;">323</span>
<span class="t nm" style="font-family:'Liberation Serif', serif;font-size:20.6px;letter-spacing:-0.100px;right:988.37px;top:670.20px;">1, 426</span>
<span class="t nm" style="font-family:'Liberation Serif', serif;font-size:20.6px;letter-spacing:-0.100px;right:477.77px;top:669.78px;">1, 103</span>
<span class="t nm" style="font-family:'Liberation Serif', serif;font-size:20.6px;letter-spacing:-0.100px;right:350.07px;top:669.57px;">323</span>
<span class="t nm" style="font-family:'Liberation Serif', serif;font-size:20.6px;letter-spacing:-0.100px;right:212.07px;top:669.34px;">1, 426</span>
<span class="t lb" style="font-family:'DejaVu Serif', 'Liberation Serif', serif;font-size:20.0px;letter-spacing:0.300px;left:257.30px;top:690.48px;">Rare-earth metals and thorium</span>
<span class="t nm" style="font-family:'Liberation Serif', serif;font-size:20.6px;letter-spacing:-0.100px;right:1242.44px;top:690.50px;">20</span>
<span class="t nm" style="font-family:'Liberation Serif', serif;font-size:20.6px;letter-spacing:-0.100px;right:1115.34px;top:690.50px;">8</span>
<span class="t nm" style="font-family:'Liberation Serif', serif;font-size:20.6px;letter-spacing:-0.100px;right:988.34px;top:690.50px;">28</span>
<span class="t nm" style="font-family:'Liberation Serif', serif;font-size:20.6px;letter-spacing:-0.100px;right:477.74px;top:690.08px;">20</span>
<span class="t nm" style="font-family:'Liberation Serif', serif;font-size:20.6px;letter-spacing:-0.100px;right:350.04px;top:689.87px;">8</span>
<span class="t nm" style="font-family:'Liberation Serif', serif;font-size:20.6px;letter-spacing:-0.100px;right:212.04px;top:689.64px;">28</span>
<span class="t lb" style="font-family:'DejaVu Serif', 'Liberation Serif', serif;font-size:20.0px;letter-spacing:0.300px;left:257.30px;top:710.48px;">Silver</span>
<span class="t nm" style="font-family:'Liberation Serif', serif;font-size:20.6px;letter-spacing:-0.100px;right:1242.41px;top:710.50px;">92</span>
<span class="t nm" style="font-family:'Liberation Serif', serif;font-size:20.6px;letter-spacing:-0.100px;right:1115.31px;top:710.50px;">4</span>
<span class="t nm" style="font-family:'Liberation Serif', serif;font-size:20.6px;letter-spacing:-0.100px;right:988.31px;top:710.50px;">96</span>
<span class="t nm" style="font-family:'Liberation Serif', serif;font-size:20.6px;letter-spacing:-0.100px;right:860.21px;top:710.50px;">406</span>
<span class="t nm" style="font-family:'Liberation Serif', serif;font-size:20.6px;letter-spacing:-0.100px;right:733.21px;top:710.50px;">155</span>
<span class="t nm" style="font-family:'Liberation Serif', serif;font-size:20.6px;letter-spacing:-0.100px;right:605.61px;top:710.29px;">561</span>
<span class="t nm" style="font-family:'Liberation Serif', serif;font-size:20.6px;letter-spacing:-0.100px;right:477.71px;top:710.08px;">498</span>
<span class="t nm" style="font-family:'Liberation Serif', serif;font-size:20.6px;letter-spacing:-0.100px;right:350.01px;top:709.87px;">159</span>
<span class="t nm" style="font-family:'Liberation Serif', serif;font-size:20.6px;letter-spacing:-0.100px;right:212.01px;top:709.64px;">657</span>
<span class="t lb" style="font-family:'DejaVu Serif', 'Liberation Serif', serif;font-size:20.0px;letter-spacing:0.300px;left:257.30px;top:730.88px;">Titanium:</span>
<span class="t lb" style="font-family:'DejaVu Serif', 'Liberation Serif', serif;font-size:20.0px;letter-spacing:0.300px;left:298.20px;top:751.28px;">Ilmenite</span>
<span class="t nm" style="font-family:'Liberation Serif', serif;font-size:20.6px;letter-spacing:-0.100px;right:1242.36px;top:751.30px;">8, 887</span>
<span class="t nm" style="font-family:'Liberation Serif', serif;font-size:20.6px;letter-spacing:-0.100px;right:1115.26px;top:751.30px;">13, 181</span>
<span class="t nm" style="font-family:'Liberation Serif', serif;font-size:20.6px;letter-spacing:-0.100px;right:988.26px;top:751.30px;">22, 068</span>
<span class="t nm" style="font-family:'Liberation Serif', serif;font-size:20.6px;letter-spacing:-0.100px;right:477.66px;top:750.88px;">8, 887</span>
<span class="t nm" style="font-family:'Liberation Serif', serif;font-size:20.6px;letter-spacing:-0.100px;right:349.96px;top:750.67px;">13, 181</span>
<span class="t nm" style="font-family:'Liberation Serif', serif;font-size:20.6px;letter-spacing:-0.100px;right:211.96px;top:750.44px;">22, 068</span>
<span class="t lb" style="font-family:'DejaVu Serif', 'Liberation Serif', serif;font-size:20.0px;letter-spacing:0.300px;left:298.20px;top:772.18px;">Rutile</span>
<span class="t nm" style="font-family:'Liberation Serif', serif;font-size:20.6px;letter-spacing:-0.100px;right:1242.33px;top:772.20px;">1, 046</span>
<span class="t nm" style="font-family:'Liberation Serif', serif;font-size:20.6px;letter-spacing:-0.100px;right:1115.23px;top:772.20px;">1, 130</span>
<span class="t nm" style="font-family:'Liberation Serif', serif;font-size:20.6px;letter-spacing:-0.100px;right:988.23px;top:772.20px;">2, 176</span>
<span class="t nm" style="font-family:'Liberation Serif', serif;font-size:20.6px;letter-spacing:-0.100px;right:477.63px;top:771.78px;">1, 046</span>
<span class="t nm" style="font-family:'Liberation Serif', serif;font-size:20.6px;letter-spacing:-0.100px;right:349.93px;top:771.57px;">1, 130</span>
<span class="t nm" style="font-family:'Liberation Serif', serif;font-size:20.6px;letter-spacing:-0.100px;right:211.93px;top:771.34px;">2, 176</span>
<span class="t lb" style="font-family:'DejaVu Serif', 'Liberation Serif', serif;font-size:20.0px;letter-spacing:0.300px;left:257.30px;top:792.68px;">Tungsten</span>
<span class="t nm" style="font-family:'Liberation Serif', serif;font-size:20.6px;letter-spacing:-0.100px;right:1242.31px;top:792.70px;">61</span>
<span class="t nm" style="font-family:'Liberation Serif', serif;font-size:20.6px;letter-spacing:-0.100px;right:1115.21px;top:792.70px;">1</span>
<span class="t nm" style="font-family:'Liberation Serif', serif;font-size:20.6px;letter-spacing:-0.100px;right:988.21px;top:792.70px;">62</span>
<span class="t nm" style="font-family:'Liberation Serif', serif;font-size:20.6px;letter-spacing:-0.100px;right:860.11px;top:792.70px;">449</span>
<span class="t nm" style="font-family:'Liberation Serif', serif;font-size:20.6px;letter-spacing:-0.100px;right:733.11px;top:792.70px;">25</span>
<span class="t nm" style="font-family:'Liberation Serif', serif;font-size:20.6px;letter-spacing:-0.100px;right:605.51px;top:792.49px;">474</span>
<span class="t nm" style="font-family:'Liberation Serif', serif;font-size:20.6px;letter-spacing:-0.100px;right:477.61px;top:792.28px;">510</span>
<span class="t nm" style="font-family:'Liberation Serif', serif;font-size:20.6px;letter-spacing:-0.100px;right:349.91px;top:792.07px;">26</span>
<span class="t nm" style="font-family:'Liberation Serif', serif;font-size:20.6px;letter-spacing:-0.100px;right:211.91px;top:791.84px;">536</span>
<span class="t lb" style="font-family:'DejaVu Serif', 'Liberation Serif', serif;font-size:20.0px;letter-spacing:0.300px;left:257.30px;top:812.78px;">Uranium</span>
<span class="t nm" style="font-family:'Liberation Serif', serif;font-size:20.6px;letter-spacing:-0.100px;right:1242.28px;top:812.80px;">2, 967</span>
<span class="t nm" style="font-family:'Liberation Serif', serif;font-size:20.6px;letter-spacing:-0.100px;right:1115.18px;top:812.80px;">81, 114</span>
<span class="t nm" style="font-family:'Liberation Serif', serif;font-size:20.6px;letter-spacing:-0.100px;right:988.18px;top:812.80px;">84, 081</span>
<span class="t nm" style="font-family:'Liberation Serif', serif;font-size:20.6px;letter-spacing:-0.100px;right:860.08px;top:812.80px;">5, 628</span>
<span class="t nm" style="font-family:'Liberation Serif', serif;font-size:20.6px;letter-spacing:-0.100px;right:733.08px;top:812.80px;">2, 059</span>
<span class="t nm" style="font-family:'Liberation Serif', serif;font-size:20.6px;letter-spacing:-0.100px;right:605.48px;top:812.59px;">7, 687</span>
<span class="t nm" style="font-family:'Liberation Serif', serif;font-size:20.6px;letter-spacing:-0.100px;right:477.58px;top:812.38px;">8, 595</span>
<span class="t nm" style="font-family:'Liberation Serif', serif;font-size:20.6px;letter-spacing:-0.100px;right:349.88px;top:812.17px;">83, 173</span>
<span class="t nm" style="font-family:'Liberation Serif', serif;font-size:20.6px;letter-spacing:-0.100px;right:211.88px;top:811.94px;">91, 768</span>
<span class="t lb" style="font-family:'DejaVu Serif', 'Liberation Serif', serif;font-size:20.0px;letter-spacing:0.300px;left:257.30px;top:833.28px;">Zinc</span>
<span class="t nm" style="font-family:'Liberation Serif', serif;font-size:20.6px;letter-spacing:-0.100px;right:1242.26px;top:833.30px;">476</span>
<span class="t nm" style="font-family:'Liberation Serif', serif;font-size:20.6px;letter-spacing:-0.100px;right:1115.16px;top:833.30px;">1, 561</span>
<span class="t nm" style="font-family:'Liberation Serif', serif;font-size:20.6px;letter-spacing:-0.100px;right:988.16px;top:833.30px;">2, 037</span>
<span class="t nm" style="font-family:'Liberation Serif', serif;font-size:20.6px;letter-spacing:-0.100px;right:860.06px;top:833.30px;">8, 246</span>
<span class="t nm" style="font-family:'Liberation Serif', serif;font-size:20.6px;letter-spacing:-0.100px;right:733.06px;top:833.30px;">920</span>
<span class="t nm" style="font-family:'Liberation Serif', serif;font-size:20.6px;letter-spacing:-0.100px;right:605.46px;top:833.09px;">9, 166</span>
<span class="t nm" style="font-family:'Liberation Serif', serif;font-size:20.6px;letter-spacing:-0.100px;right:477.56px;top:832.88px;">8, 722</span>
<span class="t nm" style="font-family:'Liberation Serif', serif;font-size:20.6px;letter-spacing:-0.100px;right:349.86px;top:832.67px;">2, 481</span>
<span class="t nm" style="font-family:'Liberation Serif', serif;font-size:20.6px;letter-spacing:-0.100px;right:211.86px;top:832.44px;">11, 203</span>
<span class="t lb" style="font-family:'DejaVu Serif', 'Liberation Serif', serif;font-size:20.0px;letter-spacing:0.300px;left:257.30px;top:853.38px;">Other <sup>2</sup></span>
<span class="t nm" style="font-family:'Liberation Serif', serif;font-size:20.6px;letter-spacing:-0.100px;right:1242.23px;top:853.40px;">3, 493</span>
<span class="t nm" style="font-family:'Liberation Serif', serif;font-size:20.6px;letter-spacing:-0.100px;right:1115.13px;top:853.40px;">985</span>
<span class="t nm" style="font-family:'Liberation Serif', serif;font-size:20.6px;letter-spacing:-0.100px;right:988.13px;top:853.40px;">4, 478</span>
<span class="t nm" style="font-family:'Liberation Serif', serif;font-size:20.6px;letter-spacing:-0.100px;right:477.53px;top:852.98px;">3, 493</span>
<span class="t nm" style="font-family:'Liberation Serif', serif;font-size:20.6px;letter-spacing:-0.100px;right:349.83px;top:852.77px;">985</span>
<span class="t nm" style="font-family:'Liberation Serif', serif;font-size:20.6px;letter-spacing:-0.100px;right:211.83px;top:852.54px;">4, 478</span>
<span class="t lb" style="font-family:'DejaVu Serif', 'Liberation Serif', serif;font-size:20.0px;letter-spacing:0.300px;left:318.00px;top:893.88px;">Total metals</span>
<span class="t nm" style="font-family:'Liberation Serif', serif;font-size:20.6px;letter-spacing:-0.100px;right:1242.18px;top:893.90px;">335, 496</span>
<span class="t nm" style="font-family:'Liberation Serif', serif;font-size:20.6px;letter-spacing:-0.100px;right:1115.08px;top:893.90px;">508, 229</span>
<span class="t nm" style="font-family:'Liberation Serif', serif;font-size:20.6px;letter-spacing:-0.100px;right:988.08px;top:893.90px;">843, 725</span>
<span class="t nm" style="font-family:'Liberation Serif', serif;font-size:20.6px;letter-spacing:-0.100px;right:859.98px;top:893.90px;">85, 631</span>
<span class="t nm" style="font-family:'Liberation Serif', serif;font-size:20.6px;letter-spacing:-0.100px;right:732.98px;top:893.90px;">8, 200</span>
<span class="t nm" style="font-family:'Liberation Serif', serif;font-size:20.6px;letter-spacing:-0.100px;right:605.38px;top:893.69px;">93, 831</span>
<span class="t nm" style="font-family:'Liberation Serif', serif;font-size:20.6px;letter-spacing:-0.100px;right:477.48px;top:893.48px;">421, 127</span>
<span class="t nm" style="font-family:'Liberation Serif', serif;font-size:20.6px;letter-spacing:-0.100px;right:349.78px;top:893.27px;">516, 429</span>
<span class="t nm" style="font-family:'Liberation Serif', serif;font-size:20.6px;letter-spacing:-0.100px;right:211.78px;top:893.04px;">937, 556</span>
<span class="t lb" style="font-family:'DejaVu Serif', 'Liberation Serif', serif;font-size:20.0px;letter-spacing:0.300px;left:216.50px;top:934.45px;">Nonmetals:</span>
<span class="t lb" style="font-family:'DejaVu Serif', 'Liberation Serif', serif;font-size:20.0px;letter-spacing:0.300px;left:257.30px;top:954.73px;">Abrasives <sup>3</sup></span>
<span class="t nm" style="font-family:'Liberation Serif', serif;font-size:20.6px;letter-spacing:-0.100px;right:1242.10px;top:954.75px;">129</span>
<span class="t nm" style="font-family:'Liberation Serif', serif;font-size:20.6px;letter-spacing:-0.100px;right:1115.00px;top:954.75px;">62</span>
<span class="t nm" style="font-family:'Liberation Serif', serif;font-size:20.6px;letter-spacing:-0.100px;right:988.00px;top:954.75px;">191</span>
<span class="t nm" style="font-family:'Liberation Serif', serif;font-size:20.6px;letter-spacing:-0.100px;right:859.90px;top:954.75px;">34</span>
<span class="t nm" style="font-family:'Liberation Serif', serif;font-size:20.6px;letter-spacing:-0.100px;right:605.30px;top:954.54px;">34</span>
<span class="t nm" style="font-family:'Liberation Serif', serif;font-size:20.6px;letter-spacing:-0.100px;right:477.40px;top:954.33px;">163</span>
<span class="t nm" style="font-family:'Liberation Serif', serif;font-size:20.6px;letter-spacing:-0.100px;right:349.70px;top:954.12px;">62</span>
<span class="t nm" style="font-family:'Liberation Serif', serif;font-size:20.6px;letter-spacing:-0.100px;right:211.70px;top:953.89px;">225</span>
<span class="t lb" style="font-family:'DejaVu Serif', 'Liberation Serif', serif;font-size:20.0px;letter-spacing:0.300px;left:257.30px;top:975.18px;">Asbestos</span>
<span class="t nm" style="font-family:'Liberation Serif', serif;font-size:20.6px;letter-spacing:-0.100px;right:1242.07px;top:975.20px;">853</span>
<span class="t nm" style="font-family:'Liberation Serif', serif;font-size:20.6px;letter-spacing:-0.100px;right:1114.97px;top:975.20px;">1, 155</span>
<span class="t nm" style="font-family:'Liberation Serif', serif;font-size:20.6px;letter-spacing:-0.100px;right:987.97px;top:975.20px;">2, 008</span>
<span class="t nm" style="font-family:'Liberation Serif', serif;font-size:20.6px;letter-spacing:-0.100px;right:859.87px;top:975.20px;">79</span>
<span class="t nm" style="font-family:'Liberation Serif', serif;font-size:20.6px;letter-spacing:-0.100px;right:732.87px;top:975.20px;">4</span>
<span class="t nm" style="font-family:'Liberation Serif', serif;font-size:20.6px;letter-spacing:-0.100px;right:605.27px;top:974.99px;">83</span>
<span class="t nm" style="font-family:'Liberation Serif', serif;font-size:20.6px;letter-spacing:-0.100px;right:477.37px;top:974.78px;">932</span>
<span class="t nm" style="font-family:'Liberation Serif', serif;font-size:20.6px;letter-spacing:-0.100px;right:349.67px;top:974.57px;">1, 159</span>
<span class="t nm" style="font-family:'Liberation Serif', serif;font-size:20.6px;letter-spacing:-0.100px;right:211.67px;top:974.34px;">2, 091</span>
<span class="t lb" style="font-family:'DejaVu Serif', 'Liberation Serif', serif;font-size:20.0px;letter-spacing:0.300px;left:257.30px;top:995.48px;">Barite</span>
<span class="t nm" style="font-family:'Liberation Serif', serif;font-size:20.6px;letter-spacing:-0.100px;right:1242.04px;top:995.50px;">1, 769</span>
<span class="t nm" style="font-family:'Liberation Serif', serif;font-size:20.6px;letter-spacing:-0.100px;right:1114.94px;top:995.50px;">2, 986</span>
<span class="t nm" style="font-family:'Liberation Serif', serif;font-size:20.6px;letter-spacing:-0.100px;right:987.94px;top:995.50px;">4, 755</span>
<span class="t nm" style="font-family:'Liberation Serif', serif;font-size:20.6px;letter-spacing:-0.100px;right:859.84px;top:995.50px;">196</span>
<span class="t nm" style="font-family:'Liberation Serif', serif;font-size:20.6px;letter-spacing:-0.100px;right:732.84px;top:995.50px;">1</span>
<span class="t nm" style="font-family:'Liberation Serif', serif;font-size:20.6px;letter-spacing:-0.100px;right:605.24px;top:995.29px;">197</span>
<span class="t nm" style="font-family:'Liberation Serif', serif;font-size:20.6px;letter-spacing:-0.100px;right:477.34px;top:995.08px;">1, 965</span>
<span class="t nm" style="font-family:'Liberation Serif', serif;font-size:20.6px;letter-spacing:-0.100px;right:349.64px;top:994.87px;">2, 987</span>
<span class="t nm" style="font-family:'Liberation Serif', serif;font-size:20.6px;letter-spacing:-0.100px;right:211.64px;top:994.64px;">4, 952</span>
<span class="t lb" style="font-family:'DejaVu Serif', 'Liberation Serif', serif;font-size:20.0px;letter-spacing:0.300px;left:257.30px;top:1015.58px;">Boron minerals</span>
<span class="t nm" style="font-family:'Liberation Serif', serif;font-size:20.6px;letter-spacing:-0.100px;right:1242.02px;top:1015.60px;">2, 126</span>
<span class="t nm" style="font-family:'Liberation Serif', serif;font-size:20.6px;letter-spacing:-0.100px;right:987.92px;top:1015.60px;">2, 126</span>
<span class="t nm" style="font-family:'Liberation Serif', serif;font-size:20.6px;letter-spacing:-0.100px;right:859.82px;top:1015.60px;">11</span>
<span class="t nm" style="font-family:'Liberation Serif', serif;font-size:20.6px;letter-spacing:-0.100px;right:605.22px;top:1015.39px;">11</span>
<span class="t nm" style="font-family:'Liberation Serif', serif;font-size:20.6px;letter-spacing:-0.100px;right:477.32px;top:1015.18px;">2, 137</span>
<span class="t nm" style="font-family:'Liberation Serif', serif;font-size:20.6px;letter-spacing:-0.100px;right:211.62px;top:1014.74px;">2, 137</span>
<span class="t lb" style="font-family:'DejaVu Serif', 'Liberation Serif', serif;font-size:20.0px;letter-spacing:0.300px;left:257.30px;top:1035.68px;">Clays</span>
<span class="t nm" style="font-family:'Liberation Serif', serif;font-size:20.6px;letter-spacing:-0.100px;right:1241.99px;top:1035.70px;">46, 627</span>
<span class="t nm" style="font-family:'Liberation Serif', serif;font-size:20.6px;letter-spacing:-0.100px;right:1114.89px;top:1035.70px;">35, 984</span>
<span class="t nm" style="font-family:'Liberation Serif', serif;font-size:20.6px;letter-spacing:-0.100px;right:987.89px;top:1035.70px;">82, 611</span>
<span class="t nm" style="font-family:'Liberation Serif', serif;font-size:20.6px;letter-spacing:-0.100px;right:859.79px;top:1035.70px;">1, 896</span>
<span class="t nm" style="font-family:'Liberation Serif', serif;font-size:20.6px;letter-spacing:-0.100px;right:732.79px;top:1035.70px;">22</span>
<span class="t nm" style="font-family:'Liberation Serif', serif;font-size:20.6px;letter-spacing:-0.100px;right:605.19px;top:1035.49px;">1, 918</span>
<span class="t nm" style="font-family:'Liberation Serif', serif;font-size:20.6px;letter-spacing:-0.100px;right:477.29px;top:1035.28px;">48, 523</span>
<span class="t nm" style="font-family:'Liberation Serif', serif;font-size:20.6px;letter-spacing:-0.100px;right:349.59px;top:1035.07px;">36, 006</span>
<span class="t nm" style="font-family:'Liberation Serif', serif;font-size:20.6px;letter-spacing:-0.100px;right:211.59px;top:1034.84px;">84, 529</span>
<span class="t lb" style="font-family:'DejaVu Serif', 'Liberation Serif', serif;font-size:20.0px;letter-spacing:0.300px;left:257.30px;top:1055.78px;">Feldspar</span>
<span class="t nm" style="font-family:'Liberation Serif', serif;font-size:20.6px;letter-spacing:-0.100px;right:1241.97px;top:1055.80px;">1, 386</span>
<span class="t nm" style="font-family:'Liberation Serif', serif;font-size:20.6px;letter-spacing:-0.100px;right:1114.87px;top:1055.80px;">100</span>
<span class="t nm" style="font-family:'Liberation Serif', serif;font-size:20.6px;letter-spacing:-0.100px;right:987.87px;top:1055.80px;">1, 486</span>
<span class="t nm" style="font-family:'Liberation Serif', serif;font-size:20.6px;letter-spacing:-0.100px;right:859.77px;top:1055.80px;">24</span>
<span class="t nm" style="font-family:'Liberation Serif', serif;font-size:20.6px;letter-spacing:-0.100px;right:605.17px;top:1055.59px;">24</span>
<span class="t nm" style="font-family:'Liberation Serif', serif;font-size:20.6px;letter-spacing:-0.100px;right:477.27px;top:1055.38px;">1, 410</span>
<span class="t nm" style="font-family:'Liberation Serif', serif;font-size:20.6px;letter-spacing:-0.100px;right:349.57px;top:1055.17px;">100</span>
<span class="t nm" style="font-family:'Liberation Serif', serif;font-size:20.6px;letter-spacing:-0.100px;right:211.57px;top:1054.94px;">1, 510</span>
<span class="t lb" style="font-family:'DejaVu Serif', 'Liberation Serif', serif;font-size:20.0px;letter-spacing:0.300px;left:257.30px;top:1075.68px;">Fluorspar</span>
<span class="t nm" style="font-family:'Liberation Serif', serif;font-size:20.6px;letter-spacing:-0.100px;right:1241.94px;top:1075.70px;">60</span>
<span class="t nm" style="font-family:'Liberation Serif', serif;font-size:20.6px;letter-spacing:-0.100px;right:1114.84px;top:1075.70px;">44</span>
<span class="t nm" style="font-family:'Liberation Serif', serif;font-size:20.6px;letter-spacing:-0.100px;right:987.84px;top:1075.70px;">104</span>
<span class="t nm" style="font-family:'Liberation Serif', serif;font-size:20.6px;letter-spacing:-0.100px;right:859.74px;top:1075.70px;">446</span>
<span class="t nm" style="font-family:'Liberation Serif', serif;font-size:20.6px;letter-spacing:-0.100px;right:732.74px;top:1075.70px;">13</span>
<span class="t nm" style="font-family:'Liberation Serif', serif;font-size:20.6px;letter-spacing:-0.100px;right:605.14px;top:1075.49px;">459</span>
<span class="t nm" style="font-family:'Liberation Serif', serif;font-size:20.6px;letter-spacing:-0.100px;right:477.24px;top:1075.28px;">506</span>
<span class="t nm" style="font-family:'Liberation Serif', serif;font-size:20.6px;letter-spacing:-0.100px;right:349.54px;top:1075.07px;">57</span>
<span class="t nm" style="font-family:'Liberation Serif', serif;font-size:20.6px;letter-spacing:-0.100px;right:211.54px;top:1074.84px;">563</span>
<span class="t lb" style="font-family:'DejaVu Serif', 'Liberation Serif', serif;font-size:20.0px;letter-spacing:0.300px;left:257.30px;top:1095.53px;">Gypsum</span>
<span class="t nm" style="font-family:'Liberation Serif', serif;font-size:20.6px;letter-spacing:-0.100px;right:1241.91px;top:1095.55px;">7, 546</span>
<span class="t nm" style="font-family:'Liberation Serif', serif;font-size:20.6px;letter-spacing:-0.100px;right:1114.81px;top:1095.55px;">7, 440</span>
<span class="t nm" style="font-family:'Liberation Serif', serif;font-size:20.6px;letter-spacing:-0.100px;right:987.81px;top:1095.55px;">14, 986</span>
<span class="t nm" style="font-family:'Liberation Serif', serif;font-size:20.6px;letter-spacing:-0.100px;right:859.71px;top:1095.55px;">2, 496</span>
<span class="t nm" style="font-family:'Liberation Serif', serif;font-size:20.6px;letter-spacing:-0.100px;right:732.71px;top:1095.55px;">34</span>
<span class="t nm" style="font-family:'Liberation Serif', serif;font-size:20.6px;letter-spacing:-0.100px;right:605.11px;top:1095.34px;">2, 530</span>
<span class="t nm" style="font-family:'Liberation Serif', serif;font-size:20.6px;letter-spacing:-0.100px;right:477.21px;top:1095.13px;">10, 042</span>
<span class="t nm" style="font-family:'Liberation Serif', serif;font-size:20.6px;letter-spacing:-0.100px;right:349.51px;top:1094.92px;">7, 474</span>
<span class="t nm" style="font-family:'Liberation Serif', serif;font-size:20.6px;letter-spacing:-0.100px;right:211.51px;top:1094.69px;">17, 516</span>
<span class="t lb" style="font-family:'DejaVu Serif', 'Liberation Serif', serif;font-size:20.0px;letter-spacing:0.300px;left:257.30px;top:1115.78px;">Magnesite</span>
<span class="t nm" style="font-family:'Liberation Serif', serif;font-size:20.6px;letter-spacing:-0.100px;right:1241.89px;top:1115.80px;">555</span>
<span class="t nm" style="font-family:'Liberation Serif', serif;font-size:20.6px;letter-spacing:-0.100px;right:1114.79px;top:1115.80px;">1, 226</span>
<span class="t nm" style="font-family:'Liberation Serif', serif;font-size:20.6px;letter-spacing:-0.100px;right:987.79px;top:1115.80px;">1, 781</span>
<span class="t nm" style="font-family:'Liberation Serif', serif;font-size:20.6px;letter-spacing:-0.100px;right:477.19px;top:1115.38px;">555</span>
<span class="t nm" style="font-family:'Liberation Serif', serif;font-size:20.6px;letter-spacing:-0.100px;right:349.49px;top:1115.17px;">1, 226</span>
<span class="t nm" style="font-family:'Liberation Serif', serif;font-size:20.6px;letter-spacing:-0.100px;right:211.49px;top:1114.94px;">1, 781</span>
<span class="t lb" style="font-family:'DejaVu Serif', 'Liberation Serif', serif;font-size:20.0px;letter-spacing:0.300px;left:257.30px;top:1135.88px;">Magnesium compounds</span>
<span class="t nm" style="font-family:'Liberation Serif', serif;font-size:20.6px;letter-spacing:-0.100px;right:1241.86px;top:1135.90px;">42, 700</span>
<span class="t nm" style="font-family:'Liberation Serif', serif;font-size:20.6px;letter-spacing:-0.100px;right:987.76px;top:1135.90px;">42, 700</span>
<span class="t nm" style="font-family:'Liberation Serif', serif;font-size:20.6px;letter-spacing:-0.100px;right:477.16px;top:1135.48px;">42, 700</span>
<span class="t nm" style="font-family:'Liberation Serif', serif;font-size:20.6px;letter-spacing:-0.100px;right:211.46px;top:1135.04px;">42, 700</span>
<span class="t lb" style="font-family:'DejaVu Serif', 'Liberation Serif', serif;font-size:20.0px;letter-spacing:0.300px;left:257.30px;top:1156.28px;">Mica:</span>
<span class="t lb" style="font-family:'DejaVu Serif', 'Liberation Serif', serif;font-size:20.0px;letter-spacing:0.300px;left:298.20px;top:1176.68px;">Scrap</span>
<span class="t nm" style="font-family:'Liberation Serif', serif;font-size:20.6px;letter-spacing:-0.100px;right:1241.81px;top:1176.70px;">1, 273</span>
<span class="t nm" style="font-family:'Liberation Serif', serif;font-size:20.6px;letter-spacing:-0.100px;right:1114.71px;top:1176.70px;">381</span>
<span class="t nm" style="font-family:'Liberation Serif', serif;font-size:20.6px;letter-spacing:-0.100px;right:987.71px;top:1176.70px;">1, 654</span>
<span class="t nm" style="font-family:'Liberation Serif', serif;font-size:20.6px;letter-spacing:-0.100px;right:859.61px;top:1176.70px;">8</span>
<span class="t nm" style="font-family:'Liberation Serif', serif;font-size:20.6px;letter-spacing:-0.100px;right:732.61px;top:1176.70px;">1</span>
<span class="t nm" style="font-family:'Liberation Serif', serif;font-size:20.6px;letter-spacing:-0.100px;right:605.01px;top:1176.49px;">9</span>
<span class="t nm" style="font-family:'Liberation Serif', serif;font-size:20.6px;letter-spacing:-0.100px;right:477.11px;top:1176.28px;">1, 281</span>
<span class="t nm" style="font-family:'Liberation Serif', serif;font-size:20.6px;letter-spacing:-0.100px;right:349.41px;top:1176.07px;">382</span>
<span class="t nm" style="font-family:'Liberation Serif', serif;font-size:20.6px;letter-spacing:-0.100px;right:211.41px;top:1175.84px;">1, 663</span>
<span class="t lb" style="font-family:'DejaVu Serif', 'Liberation Serif', serif;font-size:20.0px;letter-spacing:0.300px;left:298.20px;top:1196.98px;">Sheet</span>
<span class="t nm" style="font-family:'Liberation Serif', serif;font-size:20.6px;letter-spacing:-0.100px;right:1241.78px;top:1197.00px;">78</span>
<span class="t nm" style="font-family:'Liberation Serif', serif;font-size:20.6px;letter-spacing:-0.100px;right:987.68px;top:1197.00px;">78</span>
<span class="t nm" style="font-family:'Liberation Serif', serif;font-size:20.6px;letter-spacing:-0.100px;right:859.58px;top:1197.00px;">182</span>
<span class="t nm" style="font-family:'Liberation Serif', serif;font-size:20.6px;letter-spacing:-0.100px;right:732.58px;top:1197.00px;">1</span>
<span class="t nm" style="font-family:'Liberation Serif', serif;font-size:20.6px;letter-spacing:-0.100px;right:604.98px;top:1196.79px;">183</span>
<span class="t nm" style="font-family:'Liberation Serif', serif;font-size:20.6px;letter-spacing:-0.100px;right:477.08px;top:1196.58px;">260</span>
<span class="t nm" style="font-family:'Liberation Serif', serif;font-size:20.6px;letter-spacing:-0.100px;right:349.38px;top:1196.37px;">1</span>
<span class="t nm" style="font-family:'Liberation Serif', serif;font-size:20.6px;letter-spacing:-0.100px;right:211.38px;top:1196.14px;">261</span>
<span class="t lb" style="font-family:'DejaVu Serif', 'Liberation Serif', serif;font-size:20.0px;letter-spacing:0.300px;left:257.30px;top:1217.28px;">Perlite</span>
<span class="t nm" style="font-family:'Liberation Serif', serif;font-size:20.6px;letter-spacing:-0.100px;right:1241.76px;top:1217.30px;">384</span>
<span class="t nm" style="font-family:'Liberation Serif', serif;font-size:20.6px;letter-spacing:-0.100px;right:1114.66px;top:1217.30px;">2</span>
<span class="t nm" style="font-family:'Liberation Serif', serif;font-size:20.6px;letter-spacing:-0.100px;right:987.66px;top:1217.30px;">386</span>
<span class="t nm" style="font-family:'Liberation Serif', serif;font-size:20.6px;letter-spacing:-0.100px;right:859.56px;top:1217.30px;">3</span>
<span class="t nm" style="font-family:'Liberation Serif', serif;font-size:20.6px;letter-spacing:-0.100px;right:604.96px;top:1217.09px;">3</span>
<span class="t nm" style="font-family:'Liberation Serif', serif;font-size:20.6px;letter-spacing:-0.100px;right:477.06px;top:1216.88px;">387</span>
<span class="t nm" style="font-family:'Liberation Serif', serif;font-size:20.6px;letter-spacing:-0.100px;right:349.36px;top:1216.67px;">2</span>
<span class="t nm" style="font-family:'Liberation Serif', serif;font-size:20.6px;letter-spacing:-0.100px;right:211.36px;top:1216.44px;">389</span>
</body></html>
